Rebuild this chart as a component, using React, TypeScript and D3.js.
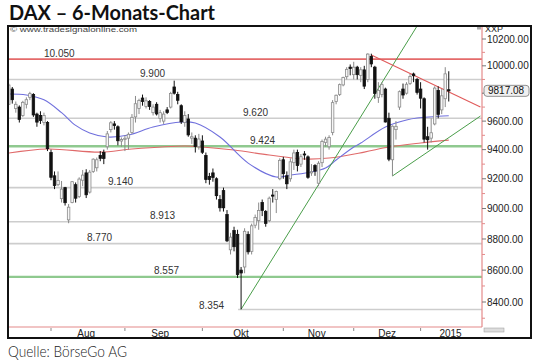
import React from "react";
import * as d3 from "d3";

// DAX daily candles, 16 Jul 2014 .. 14 Jan 2015 (trading days only)
const opens = [
  9720, 9830, 9690, 9700, 9640, 9720, 9770, 9790, 9650, 9640, 9590, 9590,
  9380, 9220, 9160, 9066, 9140, 8925, 9040, 9160, 9080, 9190, 9240, 9110, 9250, 9275, 9360, 9380, 9420, 9540, 9580, 9560, 9460,
  9470, 9480, 9520, 9630, 9690, 9765, 9705, 9740, 9660, 9720, 9620, 9600, 9680, 9700, 9845, 9790, 9710, 9590, 9615, 9480, 9480, 9420,
  9460, 9360, 9215, 9240, 9200, 9060, 9120, 8960, 8730, 8855, 8830, 8600, 8620, 8830, 8720, 8890, 8920, 9040, 8980, 8920, 9090, 9060, 9200,
  9330, 9220, 9200, 9310, 9380, 9300, 9370, 9350, 9240, 9290, 9170, 9310, 9450, 9420, 9520, 9740, 9790, 9860, 9920, 9990,
  9935, 9990, 9930, 9970, 9900, 10070, 9990, 9770, 9790, 9830, 9620, 9330, 9540, 9700, 9830, 9800, 9870, 9940, 9900,
  9830, 9760, 9490, 9480, 9580, 9820, 9680, 9760, 9825,
];
const highs = [
  9870, 9845, 9740, 9712, 9745, 9770, 9810, 9800, 9660, 9670, 9660, 9600,
  9400, 9250, 9250, 9185, 9145, 9030, 9185, 9175, 9210, 9260, 9265, 9260, 9340, 9345, 9390, 9400, 9530, 9600, 9600, 9570, 9485,
  9500, 9520, 9650, 9780, 9760, 9790, 9770, 9750, 9720, 9735, 9680, 9670, 9700, 9810, 9891, 9810, 9720, 9670, 9650, 9520, 9500, 9510,
  9500, 9380, 9240, 9270, 9210, 9090, 9140, 8990, 8840, 8880, 8860, 8620, 8870, 8850, 8900, 8960, 9040, 9060, 8990, 9080, 9130, 9120, 9340,
  9350, 9250, 9340, 9400, 9400, 9370, 9390, 9360, 9300, 9300, 9320, 9470, 9490, 9500, 9750, 9790, 9870, 9920, 9990, 10010,
  10030, 10000, 9990, 10000, 10093, 10090, 10000, 9880, 9880, 9840, 9660, 9570, 9600, 9820, 9870, 9880, 9940, 9950, 9910,
  9880, 9770, 9560, 9620, 9850, 9850, 9830, 9990, 9960,
];
const lows = [
  9715, 9725, 9660, 9590, 9630, 9690, 9750, 9630, 9560, 9580, 9570, 9390,
  9190, 9130, 9150, 9040, 9020, 8903, 9035, 9040, 9070, 9150, 9070, 9100, 9240, 9250, 9320, 9300, 9400, 9520, 9540, 9430, 9420,
  9390, 9400, 9510, 9590, 9650, 9710, 9690, 9680, 9640, 9640, 9590, 9580, 9650, 9690, 9790, 9720, 9580, 9560, 9490, 9440, 9380, 9400,
  9370, 9170, 9160, 9180, 9060, 8980, 8980, 8780, 8700, 8720, 8550, 8355, 8580, 8700, 8700, 8870, 8860, 8950, 8880, 8910, 9040, 8970, 9190,
  9200, 9130, 9180, 9260, 9250, 9280, 9330, 9200, 9220, 9220, 9150, 9280, 9420, 9400, 9500, 9720, 9780, 9850, 9900, 9930,
  9900, 9900, 9880, 9830, 9880, 9990, 9760, 9730, 9770, 9590, 9320, 9219, 9470, 9680, 9760, 9790, 9860, 9880, 9790,
  9690, 9450, 9400, 9450, 9570, 9620, 9650, 9700, 9740,
];
const closes = [
  9859, 9753, 9720, 9612, 9734, 9753, 9797, 9644, 9593, 9605, 9640, 9407,
  9210, 9154, 9189, 9130, 9039, 9009, 9180, 9069, 9198, 9225, 9092, 9245, 9334, 9330, 9340, 9339, 9510, 9588, 9569, 9462, 9470,
  9479, 9507, 9627, 9724, 9747, 9740, 9745, 9705, 9700, 9651, 9660, 9650, 9661, 9798, 9800, 9749, 9595, 9640, 9503, 9490, 9422, 9474,
  9382, 9195, 9195, 9209, 9086, 9005, 9005, 8788, 8812, 8750, 8572, 8582, 8850, 8717, 8886, 8941, 8987, 8988, 8902, 9069, 9083, 9114, 9326,
  9235, 9166, 9316, 9377, 9291, 9351, 9369, 9210, 9248, 9252, 9306, 9456, 9473, 9484, 9732, 9785, 9862, 9915, 9974, 9980,
  9990, 9935, 9971, 9851, 10087, 10014, 9799, 9820, 9862, 9594, 9334, 9564, 9563, 9811, 9787, 9865, 9922, 9927, 9806,
  9764, 9473, 9469, 9518, 9837, 9648, 9781, 9941, 9817,
];

// month axis: first trading day of each month (candle index) and label
const monthStarts = [12, 33, 55, 78, 98, 117];
const monthNames = ["Aug", "Sep", "Okt", "Nov", "Dez", "2015"];
const monthMids = [22, 43, 66, 87.5, 107.5, 125.5];

// price axis
const priceTicks = [8400, 8600, 8800, 9000, 9200, 9400, 9600, 9800, 10000, 10200];
const minorTicks = [8300, 8500, 8700, 8900, 9100, 9300, 9500, 9700, 9900, 10100];
const lastPrice = 9817.08;

// horizontal support / resistance levels
const levels = [10050, 9900, 9620, 9424, 9140, 8913, 8770, 8557, 8354];
const levelKinds = ["red", "gray", "gray", "green", "gray", "gray", "gray", "green", "gray"];

// moving averages: [candle index, value]
const maFast = [
  [0, 9794], [5, 9787], [10, 9752], [15, 9660], [19, 9570], [23, 9516], [28, 9488], [34, 9502],
  [41, 9558], [49, 9594], [53, 9586], [60, 9488], [68, 9307], [76, 9212], [80, 9225], [86, 9246],
  [90, 9273], [93, 9328], [98, 9418], [100, 9446], [107, 9558], [113, 9608], [116, 9622], [125, 9638],
];
const maSlow = [
  [0, 9376], [11, 9404], [26, 9383], [35, 9404], [50, 9425], [55, 9418], [64, 9397], [74, 9363],
  [84, 9335], [91, 9342], [101, 9383], [108, 9418], [117, 9446], [125, 9466],
];

// trend lines: [candle index, value] end points
const trendUp = [[66, 8355], [116, 10298]];
const trendUp2 = [[109, 9219], [134, 9636]];
const trendDown = [[103, 10080], [134, 9700]];

export default function App() {
  const left = 9;
  const right = 482;
  const top = 27;
  const bottom = 327;

  const x = d3.scaleLinear().domain([0, 125]).range([8.76, 448.76]);
  const y = d3.scaleLog().domain([8400, 10200]).range([302, 39]);

  const maLine = d3
    .line<number[]>()
    .x((d) => x(d[0]))
    .y((d) => y(d[1]))
    .curve(d3.curveCatmullRom.alpha(0.5));
  const straight = d3
    .line<number[]>()
    .x((d) => x(d[0]))
    .y((d) => y(d[1]));

  const levelColor = { red: "#e46a6a", gray: "#cdcdcd", green: "#8fc98f" };
  const levelWidth = { red: 1.8, gray: 1.6, green: 2.4 };
  const labelX = [44, 140, 243, 250, 108, 150, 87, 154, 199];

  const bodyW = 2.5;
  const yLast = y(lastPrice);

  return (
    <svg
      width={540}
      height={362}
      style={{ position: "absolute", left: 0, top: 0, background: "#fff" }}
      fontFamily="'Liberation Sans', Arial, sans-serif"
    >
      <defs>
        <clipPath id="plot">
          <rect x={left} y={top} width={right - left} height={bottom - top} />
        </clipPath>
      </defs>
      <rect x={0} y={0} width={540} height={362} fill="#fff" />

      <text x={9} y={20} fontFamily="Lato, 'Open Sans', sans-serif" fontWeight={700} fontSize={21}
        textLength={206} lengthAdjust="spacingAndGlyphs" fill="#111">
        DAX – 6-Monats-Chart
      </text>

      {/* horizontal levels */}
      <g clipPath="url(#plot)">
        {levels.map((v, i) => {
          const k = levelKinds[i];
          const x0 = i === levels.length - 1 ? x(66) - 3 : left;
          return (
            <line key={"lv" + i} x1={x0} x2={right} y1={y(v)} y2={y(v)}
              stroke={levelColor[k]} strokeWidth={levelWidth[k]} />
          );
        })}
      </g>

      <text x={10} y={32} fontSize={8} fill="#444" textLength={127} lengthAdjust="spacingAndGlyphs">
        © www.tradesignalonline.com
      </text>

      {levels.map((v, i) => (
        <text key={"ll" + i} x={labelX[i]} y={i === levels.length - 1 ? y(v) : y(v) - 2.5}
          fontSize={10} fill="#333">
          {d3.format(",.3f")(v / 1000).replace(",", "")}
        </text>
      ))}

      <g clipPath="url(#plot)" fill="none">
        <path d={maLine(maSlow) || ""} stroke="#e06a6a" strokeWidth={1.1} />
        <path d={maLine(maFast) || ""} stroke="#7070dd" strokeWidth={1.1} />
        <path d={straight(trendUp) || ""} stroke="#4a9e4a" strokeWidth={1} />
        <path d={straight(trendUp2) || ""} stroke="#4a9e4a" strokeWidth={1} />
        <path d={straight(trendDown) || ""} stroke="#e05a5a" strokeWidth={1.1} />
      </g>

      {/* candles */}
      <g clipPath="url(#plot)">
        {closes.map((c, i) => {
          const o = opens[i];
          const up = c >= o;
          const cx = x(i);
          const yTop = y(Math.max(o, c));
          const yBot = y(Math.min(o, c));
          const col = up ? "#8a8a8a" : "#111";
          return (
            <g key={"c" + i}>
              <line x1={cx} x2={cx} y1={y(highs[i])} y2={y(lows[i])} stroke={col} strokeWidth={1} />
              <rect x={cx - bodyW / 2} y={yTop} width={bodyW} height={Math.max(1, yBot - yTop)}
                fill={up ? "#f6f6f6" : "#111"} stroke={col} strokeWidth={0.8} />
            </g>
          );
        })}
      </g>

      {/* right price axis */}
      <line x1={right} x2={right} y1={26} y2={bottom} stroke="#e48a8a" strokeWidth={1.2} />
      {minorTicks.map((v) => (
        <line key={"mt" + v} x1={right} x2={right + 3} y1={y(v)} y2={y(v)} stroke="#e48a8a" strokeWidth={1} />
      ))}
      {priceTicks.map((v) => (
        <g key={"pt" + v}>
          <line x1={right} x2={right + 4} y1={y(v)} y2={y(v)} stroke="#777" strokeWidth={1} />
          {/* the label hidden behind the last-price marker is not drawn */}
          {Math.abs(y(v) - yLast) > 9 && (
            <text x={487} y={y(v) + 3.6} fontSize={10} fill="#222">
              {v.toFixed(2)}
            </text>
          )}
        </g>
      ))}
      <text x={485} y={32} fontSize={9} fill="#222">XXP</text>
      <rect x={477} y={27} width={4} height={2.5} fill="#aaa" />

      {/* last price marker */}
      <rect x={484} y={yLast - 5.5} width={45} height={11} rx={3}
        fill="#f0f0f0" stroke="#777" strokeWidth={0.8} />
      <text x={488} y={yLast + 3.6} fontSize={10} fill="#111">
        {lastPrice.toFixed(2)}
      </text>

      {/* bottom time axis */}
      <line x1={left} x2={right} y1={bottom} y2={bottom} stroke="#e48a8a" strokeWidth={1.2} />
      {monthStarts.map((m) => (
        <line key={"mx" + m} x1={x(m)} x2={x(m)} y1={bottom + 1} y2={bottom + 4} stroke="#888" strokeWidth={1} />
      ))}
      {monthNames.map((n, i) => (
        <text key={"mn" + n} x={x(monthMids[i])} y={337} fontSize={10} fill="#222" textAnchor="middle">
          {n}
        </text>
      ))}
      <rect x={484} y={328} width={20} height={4} fill="#ddd" stroke="#999" strokeWidth={0.5} />

      {/* frame */}
      <rect x={8} y={26} width={523} height={312} fill="none" stroke="#111" strokeWidth={2} />

      <text x={8} y={357} fontFamily="Lato, 'Open Sans', sans-serif" fontWeight={300} fontSize={16.5}
        textLength={119} lengthAdjust="spacingAndGlyphs" fill="#222">
        Quelle: BörseGo AG
      </text>
    </svg>
  );
}
